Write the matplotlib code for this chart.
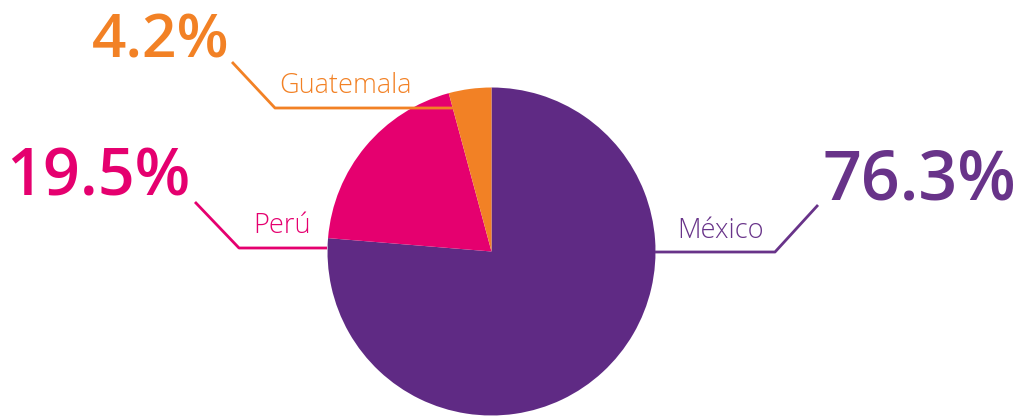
import matplotlib.pyplot as plt

# data
countries = ['México', 'Perú', 'Guatemala']
shares = [76.3, 19.5, 4.2]
colors = ['#5F2A84', '#E5006F', '#F28125']
text_colors = ['#683389', '#E5006F', '#F28125']

W, H = 1021, 416

fig = plt.figure(figsize=(W / 100, H / 100), dpi=100)
ax = fig.add_axes([0, 0, 1, 1])

# pie centred in pixel space (y measured from the bottom)
ax.pie(shares, colors=colors, startangle=90, counterclock=False,
       center=(491.5, H - 251.5), radius=164,
       wedgeprops=dict(linewidth=0))
# pie() resets the limits, so set them afterwards
ax.set_xlim(0, W)
ax.set_ylim(0, H)
ax.set_aspect('equal')
ax.axis('off')

# leader lines (pixel coords from top), label positions
leaders = [
    [(655, 252), (775, 252), (818, 205)],
    [(327, 248), (239, 248), (195, 202)],
    [(458, 108), (275, 108), (232, 62)],
]
name_pos = [(677, 238, 'left'), (311, 233, 'right'), (412, 93, 'right')]
pct_pos = [(822, 199, 'left'), (190, 196, 'right'), (229, 58, 'right')]
pct_size = [49, 46.5, 43.5]
name_size = [19.5, 19.5, 19.5]

for i in range(3):
    xs = [p[0] for p in leaders[i]]
    ys = [H - p[1] for p in leaders[i]]
    ax.plot(xs, ys, color=text_colors[i], lw=2, solid_capstyle='butt')
    x, y, ha = name_pos[i]
    ax.text(x, H - y, countries[i], color=text_colors[i], fontsize=name_size[i],
            family='Open Sans', fontweight='light', ha=ha, va='baseline')
    x, y, ha = pct_pos[i]
    ax.text(x, H - y, f'{shares[i]}%', color=text_colors[i],
            fontsize=pct_size[i], family='Open Sans', fontweight='semibold',
            ha=ha, va='baseline')

fig.savefig('out.png', dpi=100)
